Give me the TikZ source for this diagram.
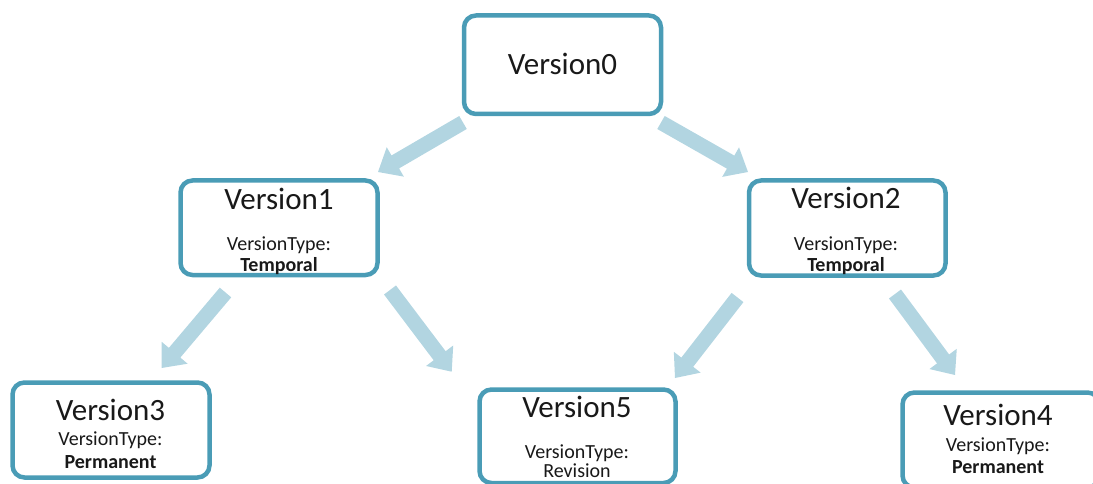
\documentclass[tikz,border=0pt]{standalone}
\usepackage{fontspec}
\setmainfont{Carlito}
\usetikzlibrary{calc}
\definecolor{boxline}{RGB}{74,156,182}
\definecolor{arrowblue}{RGB}{178,213,225}
\definecolor{txt}{RGB}{25,25,25}
\tikzset{
  vbox/.style={draw=boxline, line width=4.5pt, rounded corners=12pt, inner sep=0pt, fill=white},
  title/.style={anchor=base, inner sep=0pt, text=txt, font=\fontsize{31}{31}\selectfont},
  sub/.style={anchor=base, inner sep=0pt, text=txt, font=\fontsize{20}{20}\selectfont},
  subb/.style={sub, font=\fontsize{20}{20}\selectfont\bfseries},
  arrowfill/.style={fill=arrowblue, draw=none}
}
\newcommand\fatarrow[2]{%
  \coordinate (hb) at ($(#2)!20pt!(#1)$);
  \fill[arrowfill] ($(#1)!7.5pt!90:(#2)$) -- ($(hb)!7.5pt!90:(#2)$) -- ($(hb)!17pt!90:(#2)$)
     -- (#2) -- ($(hb)!17pt!-90:(#2)$) -- ($(hb)!7.5pt!-90:(#2)$) -- ($(#1)!7.5pt!-90:(#2)$) -- cycle;
}
\begin{document}
\begin{tikzpicture}[x=1pt,y=-1pt]
\useasboundingbox (0,0) rectangle (1093,484);
\clip (0,0) rectangle (1093,484);
% boxes
\node[vbox, minimum width=197pt, minimum height=98.5pt] (v0) at (562.5,64.75) {};
\node[vbox, minimum width=197pt, minimum height=94.5pt] (v1) at (279,227.75) {};
\node[vbox, minimum width=196.5pt, minimum height=95pt] (v2) at (847.25,228) {};
\node[vbox, minimum width=197pt, minimum height=95pt] (v3) at (111,430) {};
\node[vbox, minimum width=196pt, minimum height=93.5pt] (v5) at (577.5,436.25) {};
\node[vbox, minimum width=197pt, minimum height=95pt] (v4) at (1001,440) {};
% texts
\node[title] (t0) at (562.5,75) {Version0};
\node[title] (t1) at (279,209) {Version1};
\node[sub] (t1a) at (279,250) {VersionType:};
\node[subb] (t1b) at (279,271.7) {Temporal};
\node[title] (t2) at (846,208.5) {Version2};
\node[sub] (t2a) at (846,250) {VersionType:};
\node[subb] (t2b) at (846,271.7) {Temporal};
\node[title] (t3) at (110.5,420) {Version3};
\node[sub] (t3a) at (110.5,445) {VersionType:};
\node[subb] (t3b) at (110.5,468) {Permanent};
\node[title] (t5) at (577,417) {Version5};
\node[sub] (t5a) at (577,458.5) {VersionType:};
\node[sub] (t5b) at (577,477) {Revision};
\node[title] (t4) at (998,425) {Version4};
\node[sub] (t4a) at (998,451) {VersionType:};
\node[subb] (t4b) at (998,473) {Permanent};
% arrow end points
\coordinate (a1s) at (463,122.5); \coordinate (a1e) at (378,172);
\coordinate (a2s) at (661,122.5); \coordinate (a2e) at (748,172);
\coordinate (a3s) at (225.5,292.5); \coordinate (a3e) at (161.7,368);
\coordinate (a4s) at (390,290); \coordinate (a4e) at (451.7,371.7);
\coordinate (a5s) at (737.5,297.5); \coordinate (a5e) at (675,378);
\coordinate (a6s) at (895,294); \coordinate (a6e) at (955,375);
\fatarrow{a1s}{a1e}
\fatarrow{a2s}{a2e}
\fatarrow{a3s}{a3e}
\fatarrow{a4s}{a4e}
\fatarrow{a5s}{a5e}
\fatarrow{a6s}{a6e}
\end{tikzpicture}
\end{document}
